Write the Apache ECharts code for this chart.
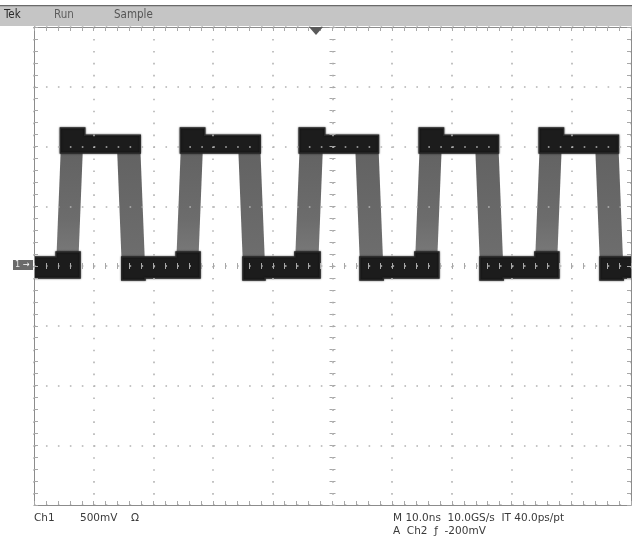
<!DOCTYPE html>
<html>
<head>
<meta charset="utf-8">
<script src="https://cdn.jsdelivr.net/npm/echarts@6.0.0/dist/echarts.min.js"></script>
<style>
html,body{margin:0;padding:0;background:#fff;}
#c{width:632px;height:541px;}
</style>
</head>
<body>
<div id="c"></div>
<script>
// ---- data (time in ns relative to centre, volts) ----
const riseStart = [-46.3, -26.2, -6.3, 13.8, 33.9];   // left edge of rising transition band (low level)
const riseEnd   = [-41.8, -21.7, -1.6, 18.3, 38.4];   // right edge of rising transition band (high level)
const fallStart = [-36.1, -15.8, 3.8, 23.9, 44.0];    // left edge of falling transition band (high level)
const fallEnd   = [-31.4, -11.3, 8.5, 28.6, 48.7];    // right edge of falling transition band (low level)
const edgeSlant = 0.8;                                // ns lean of each transition band
const lowLevel = 0.0;
const highLevel = 1.0;
const highBand = [0.945, 1.095];
const highPeak = 1.155;
const lowBand = [-0.10, 0.075];
const lowSpread = [-0.117, 0.117];
const headerTexts = ['Tek', 'Run', 'Sample'];
const footLeft = ['Ch1', '500mV', 'Ω'];
const footRight = ['M 10.0ns  10.0GS/s  IT 40.0ps/pt', 'A  Ch2  ƒ  -200mV'];

// ---- build items for the custom series ----
const items = [];
for (let i = 0; i < riseStart.length; i++) items.push([0, riseStart[i], riseEnd[i], 0, 0]);
for (let i = 0; i < fallStart.length; i++) items.push([1, fallStart[i], fallEnd[i], 0, 0]);
for (let i = 0; i < riseStart.length; i++) items.push([2, riseStart[i], riseEnd[i], fallEnd[i], 0]);
// low segments: [3, fallStart, fallEnd, nextRiseStart, nextRiseEnd]
items.push([3, -52, -52, riseStart[0], riseEnd[0]]);
for (let i = 0; i < fallStart.length; i++) {
  const nrs = i + 1 < riseStart.length ? riseStart[i + 1] : 60;
  const nre = i + 1 < riseEnd.length ? riseEnd[i + 1] : 60;
  items.push([3, fallStart[i], fallEnd[i], nrs, nre]);
}

function renderItem(params, api) {
  const k = api.value(0), a = api.value(1), b = api.value(2), c = api.value(3), d = api.value(4);
  const s = edgeSlant;
  let pts, style;
  if (k === 0) {
    pts = [[a, lowLevel], [a + s, highLevel], [b, highLevel], [b - s, lowLevel]];
    style = { fill: new echarts.graphic.LinearGradient(0, 0, 0, 1, [
      { offset: 0, color: '#626262' }, { offset: 0.6, color: '#6c6c6c' }, { offset: 1, color: '#7c7c7c' }]) };
  } else if (k === 1) {
    pts = [[a, highLevel], [a + s, lowLevel], [b, lowLevel], [b - s, highLevel]];
    style = { fill: new echarts.graphic.LinearGradient(0, 0, 0, 1, [
      { offset: 0, color: '#626262' }, { offset: 1, color: '#6e6e6e' }]) };
  } else if (k === 2) {
    const L = a + s * 0.9, R = c - s;
    pts = [[L, highBand[0]], [L, highPeak], [b + 0.3, highPeak], [b + 0.3, highBand[1]], [R, highBand[1]], [R, highBand[0]]];
    style = { fill: '#1c1c1c', stroke: '#2a2a2a', lineWidth: 1.5, shadowBlur: 2, shadowColor: 'rgba(0,0,0,0.6)' };
  } else {
    const L = a + s, R = d - s * 0.6;
    pts = [[L, lowSpread[0]], [L, lowBand[1]], [c, lowBand[1]], [c, lowSpread[1]], [R, lowSpread[1]],
           [R, lowBand[0]], [b, lowBand[0]], [b, lowSpread[0]]];
    style = { fill: '#1c1c1c', stroke: '#2a2a2a', lineWidth: 1.5, shadowBlur: 2, shadowColor: 'rgba(0,0,0,0.6)' };
  }
  return {
    type: 'polygon',
    shape: { points: pts.map(p => api.coord(p)) },
    style: style
  };
}

const FONT = '"DejaVu Sans Condensed", "Liberation Sans Narrow", "DejaVu Sans", sans-serif';
const FOOT_FONT = '"DejaVu Sans", "Liberation Sans", sans-serif';
const dotStyle = { type: [1.6, 10.35], color: '#b3b3b3', width: 1.6 };
const borderLine = { color: '#8c8c8c', width: 1 };
const tickStyle = { color: '#a8a8a8', width: 1 };

function baseAxis(min, max, interval) {
  return { type: 'value', min: min, max: max, interval: interval, axisLabel: { show: false }, splitLine: { show: false } };
}
function borderAxis(min, max, interval, pos, split) {
  return Object.assign(baseAxis(min, max, interval), {
    position: pos,
    axisLine: { show: true, onZero: false, lineStyle: borderLine },
    axisTick: { show: true, inside: true, length: 4, lineStyle: tickStyle },
    minorTick: { show: true, splitNumber: 5, length: 4, lineStyle: tickStyle },
    splitLine: { show: split, lineStyle: dotStyle }
  });
}
function centerAxis(min, max, interval, pos, inside) {
  return Object.assign(baseAxis(min, max, interval), {
    position: pos,
    axisLine: { show: false, onZero: true, onZeroAxisIndex: 0 },
    axisTick: { show: true, inside: inside, length: 3, lineStyle: tickStyle },
    minorTick: { show: true, splitNumber: 5, length: 3, lineStyle: tickStyle }
  });
}

const chart = echarts.init(document.getElementById('c'), null, { renderer: 'canvas' });
const textBase = { fontFamily: FONT, fontSize: 10.5, fill: '#3a3a3a' };
const footBase = { fontFamily: FOOT_FONT, fontSize: 10.5, fill: '#3a3a3a', verticalAlign: 'middle' };

const option = {
  animation: false,
  backgroundColor: '#ffffff',
  grid: { left: 34, top: 27, width: 597, height: 478, containLabel: false },
  xAxis: [
    borderAxis(-50, 50, 10, 'bottom', true),
    borderAxis(-50, 50, 10, 'top', false),
    centerAxis(-50, 50, 10, 'bottom', true),
    centerAxis(-50, 50, 10, 'bottom', false)
  ],
  yAxis: [
    borderAxis(-2, 2, 0.5, 'left', true),
    borderAxis(-2, 2, 0.5, 'right', false),
    centerAxis(-2, 2, 0.5, 'left', true),
    centerAxis(-2, 2, 0.5, 'left', false)
  ],
  series: [{
    type: 'custom',
    xAxisIndex: 0,
    yAxisIndex: 0,
    clip: true,
    silent: true,
    z: -1,
    renderItem: renderItem,
    data: items
  }],
  graphic: [
    { type: 'rect', shape: { x: 0, y: 5, width: 632, height: 21 }, style: { fill: '#c5c5c5' }, z: 10 },
    { type: 'rect', shape: { x: 0, y: 5, width: 632, height: 1.2 }, style: { fill: '#6a6a6a' }, z: 11 },
    { type: 'text', x: 4, y: 15, style: Object.assign({}, textBase, { text: headerTexts[0], fill: '#2a2a2a', fontSize: 11.5, verticalAlign: 'middle' }), z: 12 },
    { type: 'text', x: 54, y: 15, style: Object.assign({}, textBase, { text: headerTexts[1], fill: '#5e5e5e', fontSize: 11.5, verticalAlign: 'middle' }), z: 12 },
    { type: 'text', x: 114, y: 15, style: Object.assign({}, textBase, { text: headerTexts[2], fill: '#555555', fontSize: 11.5, verticalAlign: 'middle' }), z: 12 },
    { type: 'polygon', shape: { points: [[309, 27], [323, 27], [316, 35]] }, style: { fill: '#5a5a5a' }, z: 12 },
    { type: 'rect', shape: { x: 13, y: 260, width: 20, height: 10 }, style: { fill: '#6a6a6a' }, z: 12 },
    { type: 'text', x: 15, y: 265, style: { text: '1', fontFamily: FONT, fontSize: 9, fill: '#e8e8e8', verticalAlign: 'middle' }, z: 13 },
    { type: 'text', x: 23, y: 265, style: { text: '→', fontFamily: FONT, fontSize: 9, fill: '#ffffff', verticalAlign: 'middle' }, z: 13 },
    { type: 'text', x: 34, y: 518, style: Object.assign({}, footBase, { text: footLeft[0] }) },
    { type: 'text', x: 80, y: 518, style: Object.assign({}, footBase, { text: footLeft[1] }) },
    { type: 'text', x: 131, y: 518, style: Object.assign({}, footBase, { text: footLeft[2] }) },
    { type: 'text', x: 393, y: 518, style: Object.assign({}, footBase, { text: footRight[0] }) },
    { type: 'text', x: 393, y: 531, style: Object.assign({}, footBase, { text: footRight[1] }) }
  ]
};
chart.setOption(option);
</script>
</body>
</html>
